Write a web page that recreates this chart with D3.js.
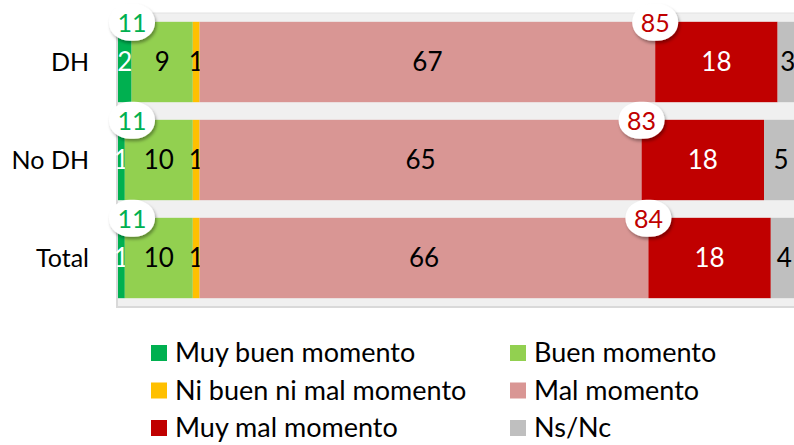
<!DOCTYPE html>
<html>
<head>
<meta charset="utf-8">
<script src="https://cdn.jsdelivr.net/npm/d3@7"></script>
<style>
  body { margin: 0; background: #fff; }
  text { font-family: Lato, "Open Sans", sans-serif; }
</style>
</head>
<body>
<svg id="chart" width="794" height="445"></svg>
<script>
// values
let categories = ["DH", "No DH", "Total"];
let seriesNames = ["Muy buen momento", "Buen momento", "Ni buen ni mal momento", "Mal momento", "Muy mal momento", "Ns/Nc"];
let muyBuen = [2, 1, 1];
let buen = [9, 10, 10];
let niBuenNiMal = [1, 1, 1];
let mal = [67, 65, 66];
let muyMal = [18, 18, 18];
let nsnc = [3, 5, 4];
let totalBuen = [11, 11, 11];
let totalMal = [85, 83, 84];

let seriesColors = ["#00b050", "#92d050", "#ffc000", "#d99694", "#c00000", "#bfbfbf"];
let labelColors = ["#ffffff", "#000000", "#000000", "#000000", "#ffffff", "#000000"];

let rows = categories.map((c, i) => ({
  cat: c,
  "Muy buen momento": muyBuen[i],
  "Buen momento": buen[i],
  "Ni buen ni mal momento": niBuenNiMal[i],
  "Mal momento": mal[i],
  "Muy mal momento": muyMal[i],
  "Ns/Nc": nsnc[i]
}));

let plot = { left: 117, top: 13, bottom: 307 };

let svg = d3.select("#chart");

let defs = svg.append("defs");
let shadow = defs.append("filter").attr("id", "shadow")
  .attr("x", "-30%").attr("y", "-30%").attr("width", "160%").attr("height", "170%");
shadow.append("feDropShadow")
  .attr("dx", 1.5).attr("dy", 2.5).attr("stdDeviation", 1.8)
  .attr("flood-color", "#000").attr("flood-opacity", 0.35);

let x = d3.scaleLinear().domain([0, 100]).range([plot.left + 1, plot.left + 681]);
let y = d3.scaleBand().domain(categories).range([plot.top, plot.bottom])
  .paddingInner(0.18).paddingOuter(0.09);

// plot background (gray wall)
svg.append("rect")
  .attr("x", plot.left).attr("y", plot.top)
  .attr("width", 794 - plot.left).attr("height", plot.bottom - plot.top)
  .attr("fill", "#f0f0f0");
svg.append("line")
  .attr("x1", plot.left).attr("x2", 794).attr("y1", plot.top).attr("y2", plot.top)
  .attr("stroke", "#e2e2e2").attr("stroke-width", 1);
svg.append("line")
  .attr("x1", plot.left).attr("x2", 794).attr("y1", plot.bottom).attr("y2", plot.bottom)
  .attr("stroke", "#d9d9d9").attr("stroke-width", 2);
svg.append("line")
  .attr("x1", plot.left).attr("x2", plot.left).attr("y1", plot.top).attr("y2", plot.bottom + 1)
  .attr("stroke", "#d9d9d9").attr("stroke-width", 2);

let stack = d3.stack().keys(seriesNames);
let stacked = stack(rows);

let layers = svg.selectAll("g.layer")
  .data(stacked)
  .enter()
  .append("g")
  .attr("class", "layer")
  .attr("fill", (d, i) => seriesColors[i]);

layers.selectAll("rect")
  .data(d => d)
  .enter()
  .append("rect")
  .attr("x", d => x(d[0]))
  .attr("y", d => y(d.data.cat))
  .attr("width", d => x(d[1]) - x(d[0]))
  .attr("height", y.bandwidth());

layers.each(function(layer, i) {
  d3.select(this).selectAll("text")
    .data(layer)
    .enter()
    .append("text")
    .attr("x", d => (x(d[0]) + x(d[1])) / 2)
    .attr("y", d => y(d.data.cat) + y.bandwidth() / 2)
    .attr("dy", "0.36em")
    .attr("text-anchor", "middle")
    .attr("font-size", 26)
    .attr("fill", labelColors[i])
    .text(d => d[1] - d[0]);
});

// category labels
svg.selectAll("text.cat")
  .data(categories)
  .enter()
  .append("text")
  .attr("class", "cat")
  .attr("x", 89)
  .attr("y", d => y(d) + y.bandwidth() / 2)
  .attr("dy", "0.36em")
  .attr("text-anchor", "end")
  .attr("font-size", 25)
  .attr("fill", "#000")
  .text(d => d);

// total bubbles
function bubbles(values, xPos, color) {
  let g = svg.append("g").selectAll("g")
    .data(values)
    .enter()
    .append("g")
    .attr("transform", (d, i) => "translate(" + xPos(i) + "," + (y(categories[i]) + 1) + ")");
  g.append("rect")
    .attr("x", -23).attr("y", -19)
    .attr("width", 46).attr("height", 37)
    .attr("rx", 21).attr("ry", 18)
    .attr("fill", "#fff")
    .attr("filter", "url(#shadow)");
  g.append("text")
    .attr("text-anchor", "middle")
    .attr("dy", "0.36em")
    .attr("font-size", 25)
    .attr("fill", color)
    .text(d => d);
}

bubbles(totalBuen, i => x(0) + 14, "#00b050");
bubbles(totalMal, i => x(muyBuen[i] + buen[i] + niBuenNiMal[i] + mal[i]), "#c00000");

// legend
let legend = svg.append("g").selectAll("g")
  .data(seriesNames)
  .enter()
  .append("g")
  .attr("transform", (d, i) => "translate(" + (i % 2 === 0 ? 151 : 510) + "," + (353 + Math.floor(i / 2) * 37.5) + ")");

legend.append("rect")
  .attr("x", 0).attr("y", -8)
  .attr("width", 16).attr("height", 16)
  .attr("fill", (d, i) => seriesColors[i]);

legend.append("text")
  .attr("x", 24)
  .attr("dy", "0.34em")
  .attr("font-size", 27)
  .attr("fill", "#000")
  .text(d => d);
</script>
</body>
</html>
